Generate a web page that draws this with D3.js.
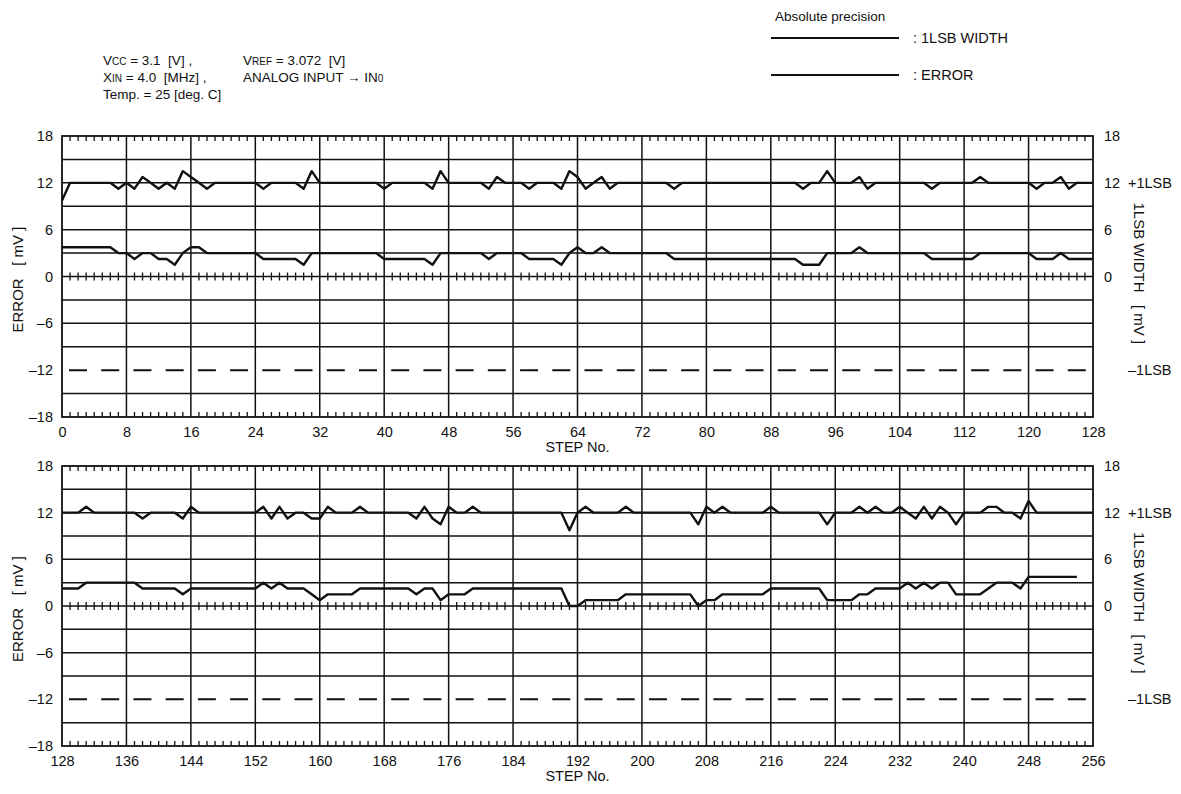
<!DOCTYPE html>
<html>
<head>
<meta charset="utf-8">
<script src="https://cdn.jsdelivr.net/npm/d3@7"></script>
<style>
  body { margin: 0; background: #fff; }
  svg text { font-family: "Liberation Sans", Arial, Helvetica, sans-serif; fill: #111; white-space: pre; }
</style>
</head>
<body>
<svg id="chart" width="1181" height="794"></svg>
<script>
// 1LSB width [mV] per step, steps 0..128
const lsbTop = [
  9.75, 12, 12, 12, 12, 12, 12, 11.25,
  12, 11.25, 12.75, 12, 11.25, 12, 11.25, 13.5,
  12.75, 12, 11.25, 12, 12, 12, 12, 12,
  12, 11.25, 12, 12, 12, 12, 11.25, 13.5,
  12, 12, 12, 12, 12, 12, 12, 12,
  11.25, 12, 12, 12, 12, 12, 11.25, 13.5,
  12, 12, 12, 12, 12, 11.25, 12.75, 12,
  12, 12, 11.25, 12, 12, 12, 11.25, 13.5,
  12.75, 11.25, 12, 12.75, 11.25, 12, 12, 12,
  12, 12, 12, 12, 11.25, 12, 12, 12,
  12, 12, 12, 12, 12, 12, 12, 12,
  12, 12, 12, 12, 11.25, 12, 12, 13.5,
  12, 12, 12, 12.75, 11.25, 12, 12, 12,
  12, 12, 12, 12, 11.25, 12, 12, 12,
  12, 12, 12.75, 12, 12, 12, 12, 12,
  12, 11.25, 12, 12, 12.75, 11.25, 12, 12,
  12
];

// Absolute error [mV] per step, steps 0..128
const errTop = [
  3.75, 3.75, 3.75, 3.75, 3.75, 3.75, 3.75, 3,
  3, 2.25, 3, 3, 2.25, 2.25, 1.5, 3,
  3.75, 3.75, 3, 3, 3, 3, 3, 3,
  3, 2.25, 2.25, 2.25, 2.25, 2.25, 1.5, 3,
  3, 3, 3, 3, 3, 3, 3, 3,
  2.25, 2.25, 2.25, 2.25, 2.25, 2.25, 1.5, 3,
  3, 3, 3, 3, 3, 2.25, 3, 3,
  3, 3, 2.25, 2.25, 2.25, 2.25, 1.5, 3,
  3.75, 3, 3, 3.75, 3, 3, 3, 3,
  3, 3, 3, 3, 2.25, 2.25, 2.25, 2.25,
  2.25, 2.25, 2.25, 2.25, 2.25, 2.25, 2.25, 2.25,
  2.25, 2.25, 2.25, 2.25, 1.5, 1.5, 1.5, 3,
  3, 3, 3, 3.75, 3, 3, 3, 3,
  3, 3, 3, 3, 2.25, 2.25, 2.25, 2.25,
  2.25, 2.25, 3, 3, 3, 3, 3, 3,
  3, 2.25, 2.25, 2.25, 3, 2.25, 2.25, 2.25,
  2.25
];

// 1LSB width [mV] per step, steps 128..256
const lsbBottom = [
  12, 12, 12, 12.75, 12, 12, 12, 12,
  12, 12, 11.25, 12, 12, 12, 12, 11.25,
  12.75, 12, 12, 12, 12, 12, 12, 12,
  12, 12.75, 11.25, 12.75, 11.25, 12, 12, 11.25,
  11.25, 12.75, 12, 12, 12, 12.75, 12, 12,
  12, 12, 12, 12, 11.25, 12.75, 11.25, 10.5,
  12.75, 12, 12, 12.75, 12, 12, 12, 12,
  12, 12, 12, 12, 12, 12, 12, 9.75,
  12, 12.75, 12, 12, 12, 12, 12.75, 12,
  12, 12, 12, 12, 12, 12, 12, 10.5,
  12.75, 12, 12.75, 12, 12, 12, 12, 12,
  12.75, 12, 12, 12, 12, 12, 12, 10.5,
  12, 12, 12, 12.75, 12, 12.75, 12, 12,
  12.75, 12, 11.25, 12.75, 11.25, 12.75, 12, 10.5,
  12, 12, 12, 12.75, 12.75, 12, 12, 11.25,
  13.5, 12, 12, 12, 12, 12, 12, 12,
  12
];

// Absolute error [mV] per step, steps 128..254
const errBottom = [
  2.25, 2.25, 2.25, 3, 3, 3, 3, 3,
  3, 3, 2.25, 2.25, 2.25, 2.25, 2.25, 1.5,
  2.25, 2.25, 2.25, 2.25, 2.25, 2.25, 2.25, 2.25,
  2.25, 3, 2.25, 3, 2.25, 2.25, 2.25, 1.5,
  0.75, 1.5, 1.5, 1.5, 1.5, 2.25, 2.25, 2.25,
  2.25, 2.25, 2.25, 2.25, 1.5, 2.25, 2.25, 0.75,
  1.5, 1.5, 1.5, 2.25, 2.25, 2.25, 2.25, 2.25,
  2.25, 2.25, 2.25, 2.25, 2.25, 2.25, 2.25, 0,
  0, 0.75, 0.75, 0.75, 0.75, 0.75, 1.5, 1.5,
  1.5, 1.5, 1.5, 1.5, 1.5, 1.5, 1.5, 0,
  0.75, 0.75, 1.5, 1.5, 1.5, 1.5, 1.5, 1.5,
  2.25, 2.25, 2.25, 2.25, 2.25, 2.25, 2.25, 0.75,
  0.75, 0.75, 0.75, 1.5, 1.5, 2.25, 2.25, 2.25,
  2.25, 3, 2.25, 3, 2.25, 3, 3, 1.5,
  1.5, 1.5, 1.5, 2.25, 3, 3, 3, 2.25,
  3.75, 3.75, 3.75, 3.75, 3.75, 3.75, 3.75
];

const stepTicksTop = [0, 8, 16, 24, 32, 40, 48, 56, 64, 72, 80, 88, 96, 104, 112, 120, 128];
const stepTicksBottom = [128, 136, 144, 152, 160, 168, 176, 184, 192, 200, 208, 216, 224, 232, 240, 248, 256];
const errorTicks = [18, 12, 6, 0, -6, -12, -18];
const widthTicks = [18, 12, 6, 0];
const lsbMarkValues = [12, -12];
const lsbMarkLabels = ["+1LSB", "\u20131LSB"];
const gridLevels = [15, 12, 9, 6, 3, 0, -3, -6, -9, -15];
const limitLevel = -12;

const INK = "#111";
const svg = d3.select("#chart");
const plotLeft = 62, plotRight = 1093;

const fmtSigned = d => d < 0 ? "\u2013" + Math.abs(d) : String(d);

function styleAxis(sel) {
  sel.select(".domain").remove();
  sel.selectAll("text").attr("font-size", 14.5).attr("font-family", null).attr("fill", INK);
}

function drawPanel(first, lsb, err, ticks, top, bottom) {
  const last = first + 128;
  const x = d3.scaleLinear().domain([first, last]).range([plotLeft, plotRight]);
  const y = d3.scaleLinear().domain([-18, 18]).range([bottom, top]);
  const g = svg.append("g");

  // horizontal grid
  g.selectAll(".hgrid").data(gridLevels).join("line")
    .attr("x1", plotLeft).attr("x2", plotRight)
    .attr("y1", d => y(d)).attr("y2", d => y(d))
    .attr("stroke", INK).attr("stroke-width", 1.5);

  // -1LSB limit, dashed
  const cell = x(first + 8) - x(first);
  g.append("line")
    .attr("x1", plotLeft).attr("x2", plotRight)
    .attr("y1", y(limitLevel)).attr("y2", y(limitLevel))
    .attr("stroke", INK).attr("stroke-width", 2)
    .attr("stroke-dasharray", `18,${cell / 2 - 18}`)
    .attr("stroke-dashoffset", -7);

  // vertical grid every 8 steps
  g.selectAll(".vgrid").data(ticks.slice(1, -1)).join("line")
    .attr("x1", d => x(d)).attr("x2", d => x(d))
    .attr("y1", top).attr("y2", bottom)
    .attr("stroke", INK).attr("stroke-width", 1.5);

  // minor step ticks
  const minor = d3.range(first + 1, last).filter(s => (s - first) % 8 !== 0);
  const tickRows = [
    [y(18), y(18) + 5],
    [y(0) - 4, y(0) + 4],
    [y(-18) - 5, y(-18)]
  ];
  tickRows.forEach(([a, b]) => {
    g.append("g").selectAll("line").data(minor).join("line")
      .attr("x1", d => x(d)).attr("x2", d => x(d))
      .attr("y1", a).attr("y2", b)
      .attr("stroke", INK).attr("stroke-width", 1.3);
  });

  // frame
  g.append("rect")
    .attr("x", plotLeft).attr("y", top)
    .attr("width", plotRight - plotLeft).attr("height", bottom - top)
    .attr("fill", "none").attr("stroke", INK).attr("stroke-width", 1.8);

  // traces
  const line = d3.line().x((d, i) => x(first + i)).y(d => y(d));
  [lsb, err].forEach(series => {
    g.append("path").datum(series)
      .attr("d", line)
      .attr("fill", "none").attr("stroke", INK)
      .attr("stroke-width", 2.4).attr("stroke-linejoin", "round");
  });

  // step axis
  const ax = g.append("g").attr("transform", `translate(0,${bottom})`)
    .call(d3.axisBottom(x).tickValues(ticks).tickSize(0).tickPadding(10));
  styleAxis(ax);

  g.append("text")
    .attr("x", (plotLeft + plotRight) / 2).attr("y", bottom + 35)
    .attr("text-anchor", "middle").attr("font-size", 14.5)
    .text("STEP No.");

  // error axis (left)
  const ay = g.append("g").attr("transform", `translate(${plotLeft},0)`)
    .call(d3.axisLeft(y).tickValues(errorTicks).tickFormat(fmtSigned).tickSize(0).tickPadding(9));
  styleAxis(ay);

  // width axis (right)
  const aw = g.append("g").attr("transform", `translate(${plotRight},0)`)
    .call(d3.axisRight(y).tickValues(widthTicks).tickSize(0).tickPadding(11));
  styleAxis(aw);

  const al = g.append("g").attr("transform", `translate(${plotRight},0)`)
    .call(d3.axisRight(y).tickValues(lsbMarkValues)
      .tickFormat((d, i) => lsbMarkLabels[i]).tickSize(0).tickPadding(35));
  styleAxis(al);

  // axis titles
  const midY = y(0);
  g.append("text")
    .attr("transform", `translate(23,${midY + 56}) rotate(-90)`)
    .attr("font-size", 15)
    .text("ERROR   [ mV ]");
  g.append("text")
    .attr("transform", `translate(1134,${midY - 74}) rotate(90)`)
    .attr("font-size", 15)
    .text("1LSB WIDTH   [ mV ]");
}

drawPanel(0, lsbTop, errTop, stepTicksTop, 136, 417);
drawPanel(128, lsbBottom, errBottom, stepTicksBottom, 466, 746);

// measurement conditions
const cond = svg.append("g");
function condLine(xp, yp, parts) {
  const t = cond.append("text").attr("x", xp).attr("y", yp).attr("font-size", 13.5);
  parts.forEach(([s, small]) => {
    t.append("tspan").attr("font-size", small ? 10 : 13.5).text(s);
  });
}
condLine(103, 65, [["V"], ["CC", true], [" = 3.1  [V] ,"]]);
condLine(103, 82, [["X"], ["IN", true], [" = 4.0  [MHz] ,"]]);
condLine(103, 99, [["Temp. = 25 [deg. C]"]]);
condLine(243, 65, [["V"], ["REF", true], [" = 3.072  [V]"]]);
condLine(243, 82, [["ANALOG INPUT \u2192 IN"], ["0", true]]);

// legend
const leg = svg.append("g");
leg.append("text").attr("x", 775).attr("y", 21).attr("font-size", 13.5).text("Absolute precision");
[[38, ": 1LSB WIDTH"], [75, ": ERROR"]].forEach(([ly, label]) => {
  leg.append("line").attr("x1", 771).attr("x2", 899).attr("y1", ly).attr("y2", ly)
    .attr("stroke", INK).attr("stroke-width", 2);
  leg.append("text").attr("x", 913).attr("y", ly + 5).attr("font-size", 14.5).text(label);
});
</script>
</body>
</html>
